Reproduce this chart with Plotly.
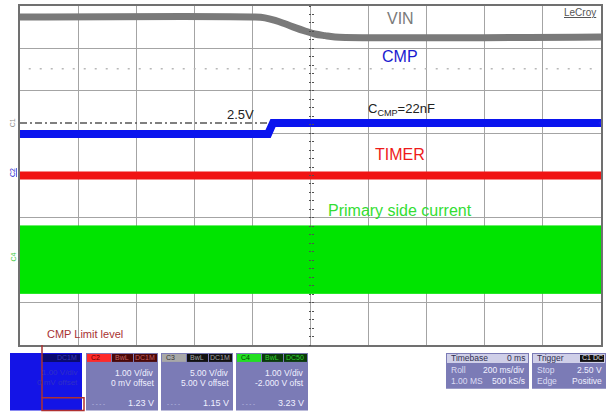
import plotly.graph_objects as go

# roll mode, 200 ms/div over 10 divisions; vertical values in screen divisions (-4..4)
t_vin = [0, 809, 843, 878, 912, 947, 981, 1015, 1050, 1084, 2000]
vin = [3.74, 3.74, 3.72, 3.66, 3.58, 3.49, 3.41, 3.34, 3.30, 3.27, 3.27]

t_cmp = [0, 854, 871, 2000]
cmp_v = [0.98, 0.98, 1.24, 1.24]

t_timer = [0, 2000]
timer = [0.0, 0.0]

t_isw = [0, 2000]
isw_hi = [-1.19, -1.19]
isw_lo = [-2.78, -2.78]

ref_t = [0, 861]
ref_level = [1.24, 1.24]      # 2.5V threshold
dot_t = [30, 1970]
dot_level = [2.52, 2.52]
trig_t = 1000
trig_level = 1.24

ch_panels = [
    # name, x0, x1, header colour, header text colour, tag colour, tag text colour, coupling, rows
    ("C2", 86, 158, "#ff2a2a", "#5a0000", "#4a0808", "#c06060", "DC1M",
     ["1.00 V/div", "0 mV offset", "1.23 V"]),
    ("C3", 161, 233, "#a8a8a8", "#333333", "#111111", "#a0a0a0", "DC1M",
     ["5.00 V/div", "5.00 V offset", "1.15 V"]),
    ("C4", 236, 308, "#22e022", "#064006", "#0a3a0a", "#30d030", "DC50",
     ["1.00 V/div", "-2.000 V ofst", "3.23 V"]),
]

FONT = "Liberation Sans, Arial, sans-serif"
W, H = 611, 414
L, R, T, B = 20, 601, 4, 345


def X(px):
    return (px - L) / (R - L)


def Y(py):
    return (B - py) / (B - T)


fig = go.Figure()

fig.add_trace(go.Scatter(x=dot_t, y=dot_level, mode="lines",
                         line=dict(color="#b8b8b8", width=1.5, dash="2px,9px")))
fig.add_trace(go.Scatter(x=ref_t, y=ref_level, mode="lines",
                         line=dict(color="#555555", width=1.5, dash="7px,3px,2px,3px")))
fig.add_trace(go.Scatter(x=t_vin, y=vin, mode="lines", line=dict(color="#7a7a7a", width=7,
                                                                  shape="spline")))
fig.add_trace(go.Scatter(x=t_cmp, y=cmp_v, mode="lines", line=dict(color="#0a14ee", width=8)))
fig.add_trace(go.Scatter(x=t_timer, y=timer, mode="lines", line=dict(color="#f01414", width=8)))
fig.add_trace(go.Scatter(x=t_isw, y=isw_lo, mode="lines", line=dict(color="#00e400", width=1)))
fig.add_trace(go.Scatter(x=t_isw, y=isw_hi, mode="lines", line=dict(color="#00e400", width=1),
                         fill="tonexty", fillcolor="#00e400"))
# trigger markers
fig.add_trace(go.Scatter(x=[trig_t], y=[-4.05], mode="markers", cliponaxis=False,
                         marker=dict(symbol="triangle-up", size=7, color="#1a1aee")))
fig.add_trace(go.Scatter(x=[2000], y=[trig_level], mode="markers", cliponaxis=False,
                         marker=dict(symbol="triangle-left", size=6, color="#1a1aee")))
# minor ticks on centre graticule line
for ax in ("y2", "y3"):
    fig.add_trace(go.Scatter(x=[None], y=[None], yaxis=ax, showlegend=False))

fig.update_layout(
    width=W, height=H, showlegend=False,
    margin=dict(l=L, r=W - R, t=T, b=H - B),
    paper_bgcolor="white", plot_bgcolor="white",
    font=dict(family=FONT),
    xaxis=dict(range=[0, 2000], dtick=200, showgrid=True, gridcolor="#a4a4a4", gridwidth=1,
               zeroline=False, showticklabels=False, showline=True, linecolor="#707070",
               linewidth=1.5, mirror=True),
    yaxis=dict(range=[-4, 4], dtick=1, showgrid=True, gridcolor="#a4a4a4", gridwidth=1,
               zeroline=False, showticklabels=False, showline=True, linecolor="#707070",
               linewidth=1.5, mirror=True),
)
for name, side in (("yaxis2", "outside"), ("yaxis3", "inside")):
    fig.update_layout(**{name: dict(range=[-4, 4], dtick=0.2, overlaying="y", anchor="free",
                                    position=0.5, side="left", ticks=side, ticklen=2,
                                    tickcolor="#505050", tickwidth=1, showticklabels=False,
                                    showgrid=False, zeroline=False, showline=False)})

ann = []


def txt(px, py, s, size=9, color="#f0f0ff", anchor="center", **kw):
    ann.append(dict(x=X(px), y=Y(py), xref="paper", yref="paper", text=s, showarrow=False,
                    xanchor=anchor, yanchor="middle", font=dict(size=size, color=color,
                                                                family=FONT), **kw))


shapes = []


def box(x0, y0, x1, y1, fill, line=None, lw=0):
    shapes.append(dict(type="rect", xref="paper", yref="paper", x0=X(x0), x1=X(x1),
                       y0=Y(y1), y1=Y(y0), fillcolor=fill,
                       line=dict(color=line or fill, width=lw)))


# trace labels
txt(400, 17, "VIN", 16, "#7a7a7a")
txt(400, 55, "CMP", 16, "#1a1ad0")
txt(240, 113, "2.5V", 13, "#222222")
txt(401, 108, "C<sub>CMP</sub>=22nF", 13, "#222222")
txt(400, 153, "TIMER", 16, "#ee1a1a")
txt(400, 210, "Primary side current", 16, "#33dd33")
txt(598, 11, "<u>LeCroy</u>", 10, "#555555", anchor="right")
txt(45, 334, "CMP Limit level", 11, "#a83232", anchor="left")

# channel markers at the left edge
txt(12, 122, "C1", 7, "#909090", textangle=-90)
txt(12, 172, "<u>C2</u>", 7, "#2020d0", textangle=-90)
txt(14, 257, "C4", 7, "#44cc44", textangle=-90)

# C1 panel (blue) with limit marker
box(10, 353, 82, 411, "#1414e6")
box(42, 354, 80, 362, "#0a0a70")
txt(79, 358, "DC1M", 7, "#3a3ab0", anchor="right")
txt(80, 373, "1.00 V/div", 8, "#3030c8", anchor="right")
txt(80, 383, "0 mV offset", 8, "#3030c8", anchor="right")
shapes.append(dict(type="line", xref="paper", yref="paper", x0=X(42), x1=X(42),
                   y0=Y(345), y1=Y(398), line=dict(color="#a83232", width=1.5)))
box(42, 398, 84, 411, "rgba(0,0,0,0)", "#b03030", 1.5)

# C2..C4 panels
for name, x0, x1, hc, htc, tagc, tagt, cpl, rows in ch_panels:
    box(x0, 353, x1, 411, "#7b7bb6")
    box(x0 + 1, 354, x0 + 25, 362, hc)
    txt(x0 + 3, 358, name, 7, htc, anchor="left")
    box(x0 + 26, 354, x0 + 47, 362, tagc)
    txt(x0 + 36, 358, "BwL", 7, tagt)
    box(x0 + 48, 354, x1 - 1, 362, tagc)
    txt(x1 - 13, 358, cpl, 7, tagt)
    txt(x1 - 2, 373, rows[0], 8.5, anchor="right")
    txt(x1 - 2, 383, rows[1], 8.5, anchor="right")
    txt(x1 - 2, 403, rows[2], 9, anchor="right")
    txt(x0 + 4, 404, "- - - -", 6, "#d0d0f0", anchor="left")

# timebase and trigger panels
box(446, 353, 529, 389, "#7b7bb6")
box(447, 354, 528, 363, "#cfcfe8")
txt(449, 358, "Timebase", 8.5, "#303050", anchor="left")
txt(527, 358, "0 ms", 8.5, "#303050", anchor="right")
txt(449, 370, "Roll", 8.5, "#dcdcf4", anchor="left")
txt(527, 370, "200 ms/div", 8.5, anchor="right")
txt(449, 381, "1.00 MS", 8.5, "#dcdcf4", anchor="left")
txt(527, 381, "500 kS/s", 8.5, anchor="right")

box(532, 353, 606, 389, "#7b7bb6")
box(533, 354, 605, 363, "#cfcfe8")
box(580, 355, 604, 362, "#111111")
txt(535, 358, "Trigger", 8.5, "#303050", anchor="left")
txt(592, 358, "C1 DC", 7, "#e0e0e0")
txt(535, 370, "Stop", 8.5, "#dcdcf4", anchor="left")
txt(604, 370, "2.50 V", 8.5, anchor="right")
txt(535, 381, "Edge", 8.5, "#dcdcf4", anchor="left")
txt(604, 381, "Positive", 8.5, anchor="right")

fig.update_layout(annotations=ann, shapes=shapes)
# page body has a default 8px margin; drop it so the figure sits at the window origin
fig.write_html("out.html", config={"displayModeBar": False},
               post_script="document.body.style.margin='0';")
